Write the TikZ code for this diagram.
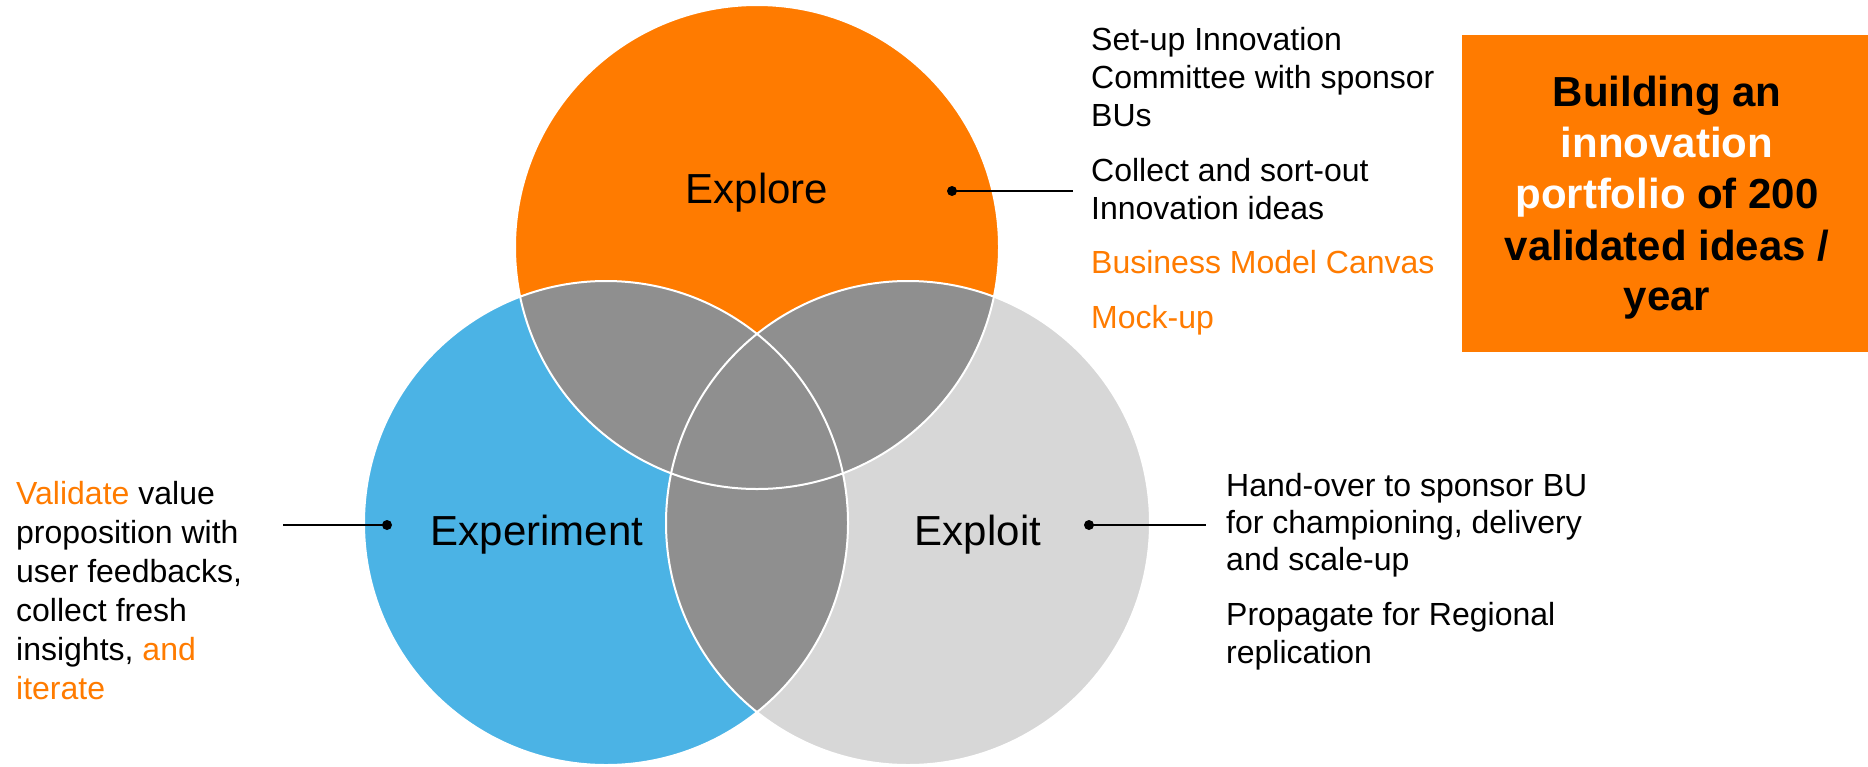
\documentclass[tikz,border=0pt]{standalone}
\usepackage{fontspec}
\setmainfont{Liberation Sans}
\definecolor{orng}{HTML}{FF7B00}
\definecolor{skyb}{HTML}{4BB3E5}
\definecolor{lgray}{HTML}{D7D7D7}
\definecolor{mgray}{HTML}{8F8F8F}
\begin{document}
\begin{tikzpicture}[x=1pt,y=-1pt,
  body/.style={anchor=base west, inner sep=0pt, font=\fontsize{32}{38}\selectfont},
  lbl/.style={anchor=base, inner sep=0pt, font=\fontsize{42}{50}\selectfont},
  boxt/.style={anchor=base, inner sep=0pt, font=\fontsize{42}{50}\selectfont\bfseries},
  dotn/.style={circle, fill=black, inner sep=0pt, minimum size=10pt},
  conn/.style={line width=2.4pt, black}]
\useasboundingbox (0,0) rectangle (1868,766);
% circle centres
\coordinate (cE) at (757,247);
\coordinate (cX) at (606,523);
\coordinate (cL) at (908,523);
\def\rr{242pt}
% fills
\fill[orng] (cE) circle (\rr);
\fill[skyb] (cX) circle (\rr);
\fill[lgray] (cL) circle (\rr);
\begin{scope}
  \clip (cE) circle (\rr);
  \fill[mgray] (cX) circle (\rr);
  \fill[mgray] (cL) circle (\rr);
\end{scope}
\begin{scope}
  \clip (cX) circle (\rr);
  \fill[mgray] (cL) circle (\rr);
\end{scope}
% white outlines
\draw[white, line width=2pt] (cE) circle (\rr);
\draw[white, line width=2pt] (cX) circle (\rr);
\draw[white, line width=2pt] (cL) circle (\rr);
% labels
\node[lbl] (lE) at (757,203) {Explore};
\node[lbl] (lX) at (537,545) {Experiment};
\node[lbl] (lL) at (978,545) {Exploit};
% connectors
\node[dotn] (dE) at (952,191) {};
\coordinate (eE) at (1073,191);
\draw[conn] (dE.center) -- (eE);
\node[dotn] (dX) at (387,525) {};
\coordinate (eX) at (283,525);
\draw[conn] (dX.center) -- (eX);
\node[dotn] (dL) at (1089,525) {};
\coordinate (eL) at (1206,525);
\draw[conn] (dL.center) -- (eL);
% right top text
\node[body] (r1) at (1091,50) {Set-up Innovation};
\node[body] (r2) at (1091,88) {Committee with sponsor};
\node[body] (r3) at (1091,126) {BUs};
\node[body] (r4) at (1091,181) {Collect and sort-out};
\node[body] (r5) at (1091,219) {Innovation ideas};
\node[body, text=orng] (r6) at (1091,273) {Business Model Canvas};
\node[body, text=orng] (r7) at (1091,328) {Mock-up};
% exploit text
\node[body] (x1) at (1226,496) {Hand-over to sponsor BU};
\node[body] (x2) at (1226,533) {for championing, delivery};
\node[body] (x3) at (1226,570) {and scale-up};
\node[body] (x4) at (1226,625) {Propagate for Regional};
\node[body] (x5) at (1226,663) {replication};
% left text
\node[body] (p1) at (16,504) {\textcolor{orng}{Validate} value};
\node[body] (p2) at (16,543) {proposition with};
\node[body] (p3) at (16,582) {user feedbacks,};
\node[body] (p4) at (16,621) {collect fresh};
\node[body] (p5) at (16,660) {insights, \textcolor{orng}{and}};
\node[body, text=orng] (p6) at (16,699) {iterate};
% box
\fill[orng] (1462,35) rectangle (1868,352);
\node[boxt] (b1) at (1667,106) {Building an};
\node[boxt, text=white] (b2) at (1667,157) {innovation};
\node[boxt] (b3) at (1667,208) {\textcolor{white}{portfolio} of 200};
\node[boxt] (b4) at (1667,260) {validated ideas /};
\node[boxt] (b5) at (1667,310) {year};
\end{tikzpicture}
\end{document}
